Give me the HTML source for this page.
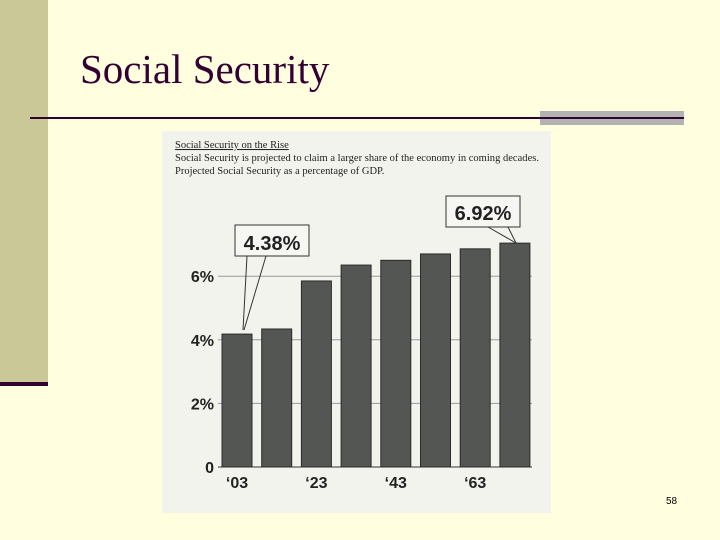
<!DOCTYPE html>
<html><head><meta charset="utf-8"><style>
html,body{margin:0;padding:0;}
body{width:720px;height:540px;background:#ffffe0;position:relative;overflow:hidden;font-family:"Liberation Sans",sans-serif;}
</style></head><body>
<div style="position:absolute;left:0;top:0;width:48px;height:382px;background:#c9c896;"></div>
<div style="position:absolute;left:0;top:382px;width:48px;height:4px;background:#330033;"></div>
<div style="position:absolute;left:80px;top:45px;font-family:'Liberation Serif',serif;font-size:41px;color:#330033;white-space:nowrap;">Social Security</div>
<div style="position:absolute;left:540px;top:111px;width:144px;height:14px;background:#b3b3b3;"></div>
<div style="position:absolute;left:30px;top:117px;width:654px;height:2px;background:#330033;"></div>
<div style="position:absolute;left:666px;top:496px;font-size:10px;color:#000;">58</div>
<svg style="position:absolute;left:0;top:0" width="720" height="540">
<rect x="162" y="131" width="389" height="382" fill="#f3f3ee"/>
<text x="175" y="148" font-family="Liberation Serif,serif" font-size="10.5" fill="#222" text-decoration="underline">Social Security on the Rise</text>
<text x="175" y="161" font-family="Liberation Serif,serif" font-size="10.5" fill="#222" textLength="364">Social Security is projected to claim a larger share of the economy in coming decades.</text>
<text x="175" y="174" font-family="Liberation Serif,serif" font-size="10.5" fill="#222">Projected Social Security as a percentage of GDP.</text>
<g id="grid"></g><g id="bars"></g><g id="labels"></g>
<g>
<rect x="235" y="225" width="74" height="31" fill="#f6f6f2" stroke="#333" stroke-width="1"/>
<text x="272" y="250" text-anchor="middle" font-weight="bold" font-size="20" fill="#222">4.38%</text>
<line x1="247" y1="256" x2="243" y2="330" stroke="#333"/>
<line x1="266" y1="256" x2="244" y2="330" stroke="#333"/>
</g>
<g>
<rect x="446" y="196" width="74" height="31" fill="#f6f6f2" stroke="#333" stroke-width="1"/>
<text x="483" y="220" text-anchor="middle" font-weight="bold" font-size="20" fill="#222">6.92%</text>
<line x1="488" y1="227" x2="516" y2="243" stroke="#333"/>
<line x1="508" y1="227" x2="516" y2="243" stroke="#333"/>
</g>
</svg>
<script>
const values=[4.18,4.34,5.85,6.35,6.5,6.7,6.86,7.04];
const xLabels=["‘03","","‘23","","‘43","","‘63",""];
const yTicks=[0,2,4,6];
const yTickLabels=["0","2%","4%","6%"];
const NS="http://www.w3.org/2000/svg";
const y=v=>467-v*31.8;
const xc=i=>237+i*39.7;
const bw=30;
function mk(t,a,p){const e=document.createElementNS(NS,t);for(const k in a)e.setAttribute(k,a[k]);p.appendChild(e);return e;}
const g=document.getElementById('grid'),b=document.getElementById('bars'),l=document.getElementById('labels');
yTicks.forEach((v,i)=>{
const ln=mk('line',{x1:218,x2:532,y1:y(v),y2:y(v),stroke:v===0?'#333':'#999','stroke-width':1},g);


const t=mk('text',{x:214,y:y(v)+6,'text-anchor':'end','font-weight':'bold','font-size':16,fill:'#222'},l);
t.textContent=yTickLabels[i];


});
values.forEach((v,i)=>{
const r=mk('rect',{x:xc(i)-bw/2,y:y(v),width:bw,height:y(0)-y(v),fill:'#545654',stroke:'#2a2a2a','stroke-width':1},b);


if(xLabels[i]){const t=mk('text',{x:xc(i),y:488,'text-anchor':'middle','font-weight':'bold','font-size':16,fill:'#222'},l);
t.textContent=xLabels[i];

}
});
</script>
</body></html>
